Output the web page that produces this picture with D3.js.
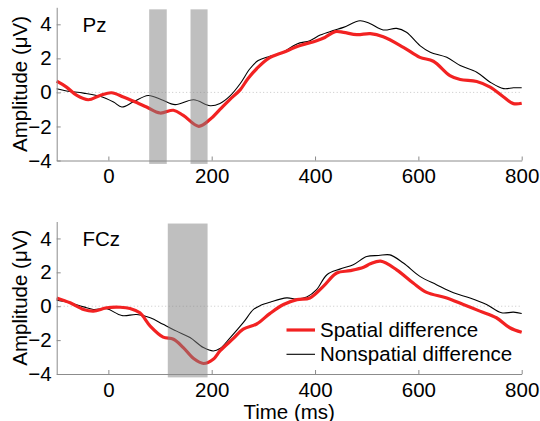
<!DOCTYPE html>
<html><head><meta charset="utf-8">
<script src="https://cdn.jsdelivr.net/npm/d3@7"></script>
<style>
body{margin:0;background:#fff;}
text{font-family:"Liberation Sans",Arial,sans-serif;fill:#000;}
</style></head><body>
<svg id="c" width="540" height="421"></svg>
<script>
// ---- data ----
const xTicks = [0, 200, 400, 600, 800];
const yTicks = [-4, -2, 0, 2, 4];
const panelLabels = ["Pz", "FCz"];
const seriesNames = ["Spatial difference", "Nonspatial difference"];

const pzSpatial = [[-100,0.66],[-81,0.31],[-61,-0.18],[-39,-0.43],[-16,-0.18],[6,-0.02],[29,-0.27],[48,-0.51],[74,-0.86],[100,-1.21],[126,-1.05],[145,-1.35],[175,-1.99],[197,-1.58],[216,-1.0],[235,-0.42],[255,0.15],[270,0.8],[287,1.39],[310,2.0],[339,2.36],[371,2.75],[403,3.04],[419,3.23],[439,3.57],[455,3.53],[481,3.39],[507,3.45],[532,3.27],[571,2.65],[603,2.06],[629,1.83],[661,0.99],[681,0.76],[713,0.64],[739,0.31],[765,-0.27],[784,-0.66],[800,-0.64]];
const pzNonspatial = [[-100,0.21],[-81,0.08],[-48,-0.04],[-16,-0.23],[10,-0.57],[26,-0.86],[48,-0.57],[77,-0.18],[103,-0.43],[129,-0.72],[165,-0.43],[197,-0.78],[216,-0.65],[235,-0.22],[255,0.51],[274,1.39],[290,1.87],[310,2.1],[332,2.26],[365,2.85],[390,3.04],[410,3.37],[435,3.63],[455,3.82],[487,4.21],[506,4.05],[532,3.67],[558,3.76],[577,3.53],[603,2.75],[623,2.36],[655,2.06],[681,1.58],[713,1.19],[739,0.6],[765,0.22],[784,0.27],[800,0.27]];
const fczSpatial = [[-100,0.49],[-74,0.2],[-48,-0.19],[-29,-0.29],[-3,-0.09],[23,-0.06],[42,-0.13],[61,-0.39],[81,-1.17],[106,-1.82],[126,-1.95],[145,-2.44],[165,-3.09],[184,-3.38],[203,-3.13],[216,-2.64],[242,-1.9],[261,-1.35],[287,-1.05],[313,-0.42],[339,0.1],[365,0.39],[390,0.49],[416,1.17],[442,1.96],[468,2.1],[494,2.3],[507,2.5],[527,2.66],[558,2.15],[590,1.37],[616,0.82],[655,0.49],[687,0.1],[719,-0.29],[751,-0.68],[777,-1.27],[800,-1.54]];
const fczNonspatial = [[-100,0.35],[-74,0.2],[-48,-0.04],[-29,-0.19],[-3,-0.15],[26,-0.55],[55,-0.49],[81,-0.68],[106,-1.07],[132,-1.47],[158,-1.85],[184,-2.44],[203,-2.64],[216,-2.5],[236,-1.85],[261,-0.97],[281,-0.19],[294,0.04],[313,0.24],[345,0.49],[365,0.43],[384,0.55],[403,0.98],[423,1.86],[448,2.19],[474,2.45],[500,2.93],[523,2.99],[545,3.03],[571,2.55],[603,1.76],[635,1.27],[668,0.79],[700,0.49],[732,0.1],[761,-0.39],[784,-0.35],[800,-0.43]];
const pzWindows = [[79,113],[159,192]];
const fczWindows = [[115,192]];

// ---- layout ----
const FS = "20.5px";
const svg = d3.select("#c");
const left = 56.7, right = 521.7;
const x = d3.scaleLinear().domain([-100, 800]).range([left, right]);
const panels = [
  {label: panelLabels[0], sp: pzSpatial, ns: pzNonspatial, win: pzWindows, yr: [160.5, 7.3]},
  {label: panelLabels[1], sp: fczSpatial, ns: fczNonspatial, win: fczWindows, yr: [374, 221.5]}
];
const axisColor = "#8c8c8c";

panels.forEach((p, i) => {
  const y = d3.scaleLinear().domain([-4, 5]).range(p.yr);
  const g = svg.append("g");
  const line = d3.line().x(d => x(d[0])).y(d => y(d[1])).curve(d3.curveCatmullRom.alpha(0.5));

  // zero line
  g.append("line").attr("x1", x(-100)).attr("x2", x(800)).attr("y1", y(0)).attr("y2", y(0))
    .attr("stroke", "#b8b8b8").attr("stroke-width", 0.8).attr("stroke-dasharray", "1,2.5");

  g.append("path").attr("d", line(p.ns)).attr("fill", "none").attr("stroke", "#000").attr("stroke-width", 1.1);
  g.append("path").attr("d", line(p.sp)).attr("fill", "none").attr("stroke", "#f22222").attr("stroke-width", 3.2);

  // shaded windows on top
  g.selectAll("rect.win").data(p.win).enter().append("rect")
    .attr("x", d => x(d[0])).attr("width", d => x(d[1]) - x(d[0]))
    .attr("y", y(4.88)).attr("height", y(-4.2) - y(4.88))
    .attr("fill", "#808080").attr("fill-opacity", 0.5);

  // axes
  const xa = g.append("g").attr("transform", `translate(0,${y(-4)})`)
    .call(d3.axisBottom(x).tickValues(xTicks).tickSizeInner(-4).tickSizeOuter(0).tickPadding(8));
  const ya = g.append("g").attr("transform", `translate(${left},0)`)
    .call(d3.axisLeft(y).tickValues(yTicks).tickSizeInner(-4).tickSizeOuter(0).tickPadding(5));
  [xa, ya].forEach(a => {
    a.select(".domain").attr("stroke", axisColor);
    a.selectAll(".tick line").attr("stroke", axisColor);
    a.selectAll(".tick text").style("font-size", FS).style("font-family", '"Liberation Sans",Arial,sans-serif');
  });
  g.append("text").attr("x", 82.5).attr("y", p.yr[1] + 24.5).style("font-size", FS).text(p.label);

  g.append("text").attr("transform", `translate(27,${(p.yr[0] + p.yr[1]) / 2}) rotate(-90)`)
    .attr("text-anchor", "middle").style("font-size", FS).text("Amplitude (μV)");
});

svg.append("text").attr("x", (left + right) / 2).attr("y", 418.5).attr("text-anchor", "middle")
  .style("font-size", FS).text("Time (ms)");

// legend
const legend = svg.append("g");
const legY = [330, 354.3];
const legStyle = [{c: "#f22222", w: 3.2}, {c: "#000", w: 1.1}];
seriesNames.forEach((n, i) => {
  legend.append("line").attr("x1", 286.5).attr("x2", 315).attr("y1", legY[i]).attr("y2", legY[i])
    .attr("stroke", legStyle[i].c).attr("stroke-width", legStyle[i].w);
  legend.append("text").attr("x", 320).attr("y", legY[i] + 7).style("font-size", FS).text(n);
});
</script></body></html>
